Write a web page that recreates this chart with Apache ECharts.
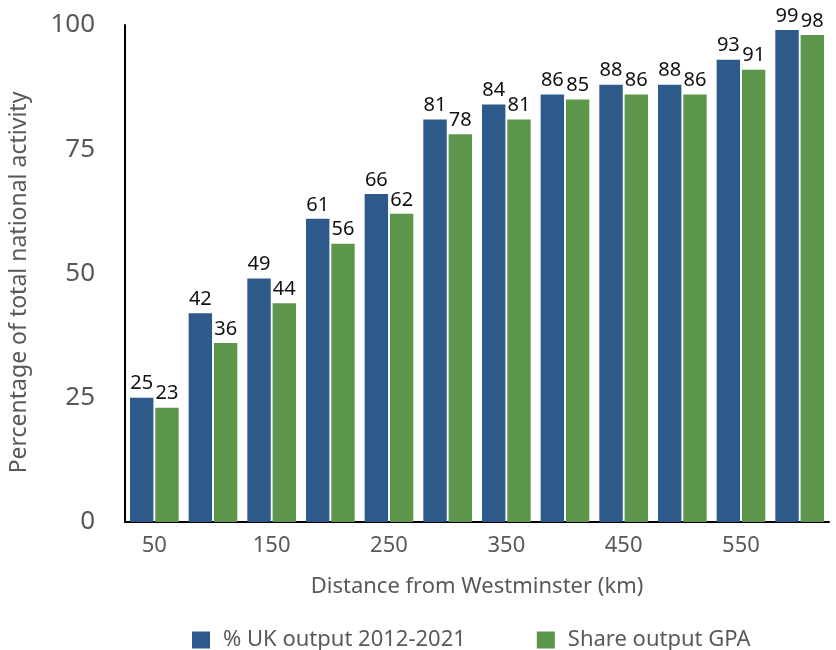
<!DOCTYPE html>
<html>
<head>
<meta charset="utf-8">
<script src="https://cdn.jsdelivr.net/npm/echarts@6/dist/echarts.min.js"></script>
<style>
  html, body { margin: 0; padding: 0; background: #fff; }
  #chart { width: 836px; height: 650px; }
</style>
</head>
<body>
<div id="chart"></div>
<script>
// distance bands (km)
const distances = ["50", "100", "150", "200", "250", "300", "350", "400", "450", "500", "550", "600"];
// % UK output 2012-2021
const ukOutput = [25, 42, 49, 61, 66, 81, 84, 86, 88, 88, 93, 99];
// share output GPA
const gpaShare = [23, 36, 44, 56, 62, 78, 81, 85, 86, 86, 91, 98];
const yTicks = [0, 25, 50, 75, 100];

const FONT = "'Noto Sans', sans-serif";
const GREY = "#595959";

const chart = echarts.init(document.getElementById("chart"));

const labelStyle = {
  show: true,
  position: "top",
  distance: 4,
  color: "#111",
  fontSize: 20,
  fontFamily: FONT
};

const option = {
  animation: false,
  grid: { left: 123, right: 7, top: 25, bottom: 128 },
  legend: {
    top: 624,
    left: 187,
    itemWidth: 18,
    itemHeight: 17,
    itemGap: 71,
    icon: "rect",
    textStyle: { color: GREY, fontSize: 22, fontFamily: FONT, padding: [0, 0, 0, 8] },
    data: ["% UK output 2012-2021", "Share output GPA"]
  },
  xAxis: {
    type: "category",
    data: distances,
    name: "Distance from Westminster (km)",
    nameLocation: "middle",
    nameGap: 54,
    nameTextStyle: { color: GREY, fontSize: 22, fontFamily: FONT },
    axisLine: { lineStyle: { color: "#000", width: 2 } },
    axisTick: { show: false },
    axisLabel: {
      interval: 1,
      color: GREY,
      fontSize: 22,
      fontFamily: FONT,
      margin: 13
    }
  },
  yAxis: {
    type: "value",
    min: yTicks[0],
    max: yTicks[yTicks.length - 1],
    interval: 25,
    name: "Percentage of total national activity",
    nameLocation: "middle",
    nameGap: 94,
    nameTextStyle: { color: GREY, fontSize: 23, fontFamily: FONT, padding: [0, 18, 0, 0] },
    axisLine: { show: true, lineStyle: { color: "#000", width: 2 } },
    axisTick: { show: false },
    splitLine: { show: false },
    axisLabel: {
      color: GREY,
      fontSize: 26,
      fontFamily: FONT,
      margin: 30
    }
  },
  series: [
    {
      name: "% UK output 2012-2021",
      type: "bar",
      data: ukOutput,
      barGap: "8%",
      barCategoryGap: "17%",
      itemStyle: { color: "#2D5A8B" },
      label: labelStyle
    },
    {
      name: "Share output GPA",
      type: "bar",
      data: gpaShare,
      barGap: "8%",
      barCategoryGap: "17%",
      itemStyle: { color: "#5C964A" },
      label: labelStyle
    }
  ]
};

chart.setOption(option);
</script>
</body>
</html>
